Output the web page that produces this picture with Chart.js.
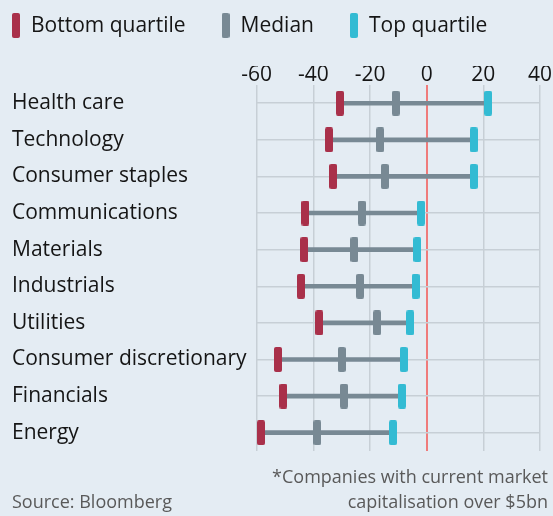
<!DOCTYPE html>
<html>
<head>
<meta charset="utf-8">
<script src="https://cdn.jsdelivr.net/npm/chart.js@4.4.0/dist/chart.umd.min.js"></script>
<style>
html, body { margin: 0; padding: 0; background: #e4ecf3; }
#chart { display: block; }
</style>
</head>
<body>
<canvas id="chart" width="553" height="516"></canvas>
<script>
// data
var sectors = ["Health care", "Technology", "Consumer staples", "Communications", "Materials",
    "Industrials", "Utilities", "Consumer discretionary", "Financials", "Energy"];
var bottomQuartile = [-30.6, -34.5, -33.0, -42.8, -43.2, -44.4, -37.9, -52.5, -50.6, -58.5];
var median = [-10.9, -16.4, -14.8, -22.9, -25.5, -23.5, -17.5, -30.0, -29.2, -38.6];
var topQuartile = [21.7, 16.6, 16.6, -2.0, -3.3, -3.9, -5.8, -8.1, -8.7, -11.9];
var xTicks = [-60, -40, -20, 0, 20, 40];
var footLeft = ["Source: Bloomberg"];
var footRight = ["*Companies with current market", "capitalisation over $5bn"];

var FONT = "'Open Sans', 'Noto Sans', sans-serif";
var RED = "#a9304a", GREY = "#788994", CYAN = "#33bbd3";

function marker(color) {
    var c = document.createElement("canvas");
    c.width = 8;
    c.height = 25;
    var g = c.getContext("2d");
    g.fillStyle = color;
    g.beginPath();
    if (g.roundRect) g.roundRect(0, 0, 8, 25, 2); else g.rect(0, 0, 8, 25);
    g.fill();
    return c;
}

function markerSet(label, data, color) {
    return {
        type: "line",
        indexAxis: "y",
        label: label,
        data: data,
        showLine: false,
        pointStyle: marker(color),
        pointRadius: 4,
        borderColor: color,
        backgroundColor: color,
        order: 1
    };
}

// legend + footnotes drawn by hand so the spacing matches
var extras = {
    id: "extras",
    afterDraw: function (chart) {
        var ctx = chart.ctx;
        ctx.save();
        ctx.font = "21px " + FONT;
        ctx.textBaseline = "middle";
        ctx.textAlign = "left";
        var x = 12;
        chart.data.datasets.forEach(function (ds) {
            if (ds.type !== "line") return;
            ctx.drawImage(ds.pointStyle, x, 13);
            ctx.fillStyle = "#151515";
            ctx.fillText(ds.label, x + 19, 26);
            x += 19 + ctx.measureText(ds.label).width + 36;
        });

        ctx.font = "18px " + FONT;
        ctx.fillStyle = "#595959";
        ctx.textAlign = "left";
        ctx.fillText(footLeft[0], 12, 503);
        ctx.textAlign = "right";
        ctx.fillText(footRight[0], 548, 478);
        ctx.fillText(footRight[1], 548, 503);
        ctx.restore();
    }
};

new Chart(document.getElementById("chart"), {
    type: "bar",
    data: {
        labels: sectors,
        datasets: [
            markerSet("Bottom quartile", bottomQuartile, RED),
            markerSet("Median", median, GREY),
            markerSet("Top quartile", topQuartile, CYAN),
            {
                type: "bar",
                label: "Range",
                data: sectors.map(function (s, i) { return [bottomQuartile[i], topQuartile[i]]; }),
                backgroundColor: GREY,
                barThickness: 4,
                order: 2
            }
        ]
    },
    options: {
        indexAxis: "y",
        responsive: false,
        animation: false,
        devicePixelRatio: 1,
        layout: { padding: { left: 12, right: 13, top: 66, bottom: 65 } },
        plugins: { legend: { display: false }, tooltip: { enabled: false } },
        scales: {
            x: {
                type: "linear",
                position: "top",
                min: xTicks[0],
                max: xTicks[xTicks.length - 1],
                afterBuildTicks: function (scale) {
                    scale.ticks = xTicks.map(function (v) { return { value: v }; });
                },
                ticks: {
                    font: { family: FONT, size: 21, lineHeight: 0.9 },
                    color: "#151515",
                    padding: 0
                },
                grid: {
                    drawTicks: false,
                    color: function (c) { return c.tick && c.tick.value === 0 ? "#ef7b7b" : "#c7cfd6"; },
                    lineWidth: function (c) { return c.tick && c.tick.value === 0 ? 2 : 1.5; }
                },
                border: { display: false }
            },
            y: {
                type: "category",
                offset: true,
                afterFit: function (scale) { scale.width = 244.7; },
                ticks: {
                    crossAlign: "far",
                    font: { family: FONT, size: 21 },
                    color: "#151515",
                    padding: 0
                },
                grid: { offset: false, drawTicks: false, color: "#c7cfd6", lineWidth: 1.5 },
                border: { display: false }
            }
        }
    },
    plugins: [extras]
});
</script>
</body>
</html>
